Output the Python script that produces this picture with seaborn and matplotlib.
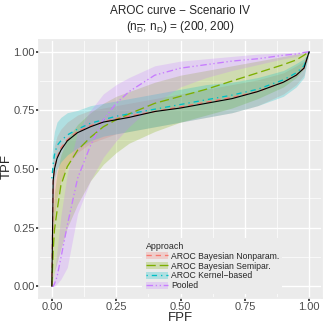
import numpy as np
import pandas as pd
import matplotlib
matplotlib.use("Agg")
import matplotlib.pyplot as plt
import seaborn as sns
from matplotlib.patches import Patch
from matplotlib.lines import Line2D

# Данные
fpf = [0, 0.005, 0.01, 0.02, 0.035, 0.06, 0.1, 0.15, 0.2, 0.25, 0.3,
       0.4, 0.5, 0.6, 0.7, 0.8, 0.9, 0.95, 0.98, 1.0]

true_roc = [0, 0.45, 0.50, 0.545, 0.58, 0.62, 0.655, 0.68, 0.70, 0.71, 0.72,
            0.745, 0.76, 0.78, 0.80, 0.83, 0.87, 0.90, 0.93, 1.0]

nonpar = [0, 0.44, 0.50, 0.55, 0.59, 0.625, 0.66, 0.685, 0.70, 0.715, 0.725,
          0.745, 0.765, 0.785, 0.805, 0.83, 0.87, 0.90, 0.93, 1.0]
nonpar_lo = [0, 0.20, 0.30, 0.38, 0.45, 0.52, 0.57, 0.61, 0.63, 0.65, 0.66,
             0.68, 0.70, 0.72, 0.74, 0.77, 0.82, 0.86, 0.90, 1.0]
nonpar_hi = [0.30, 0.55, 0.60, 0.64, 0.67, 0.70, 0.73, 0.75, 0.76, 0.77, 0.78,
             0.80, 0.82, 0.84, 0.86, 0.88, 0.91, 0.94, 0.96, 1.0]

semipar = [0, 0.15, 0.24, 0.32, 0.43, 0.51, 0.58, 0.635, 0.68, 0.71, 0.735,
           0.78, 0.81, 0.84, 0.875, 0.91, 0.945, 0.965, 0.985, 1.0]
semipar_lo = [0, 0.03, 0.06, 0.10, 0.16, 0.25, 0.35, 0.45, 0.52, 0.57, 0.61,
              0.66, 0.70, 0.73, 0.76, 0.80, 0.85, 0.89, 0.93, 1.0]
semipar_hi = [0.05, 0.30, 0.40, 0.48, 0.56, 0.63, 0.69, 0.74, 0.78, 0.81, 0.83,
              0.87, 0.90, 0.92, 0.94, 0.96, 0.98, 0.99, 0.995, 1.0]

kernel = [0.46, 0.52, 0.56, 0.60, 0.62, 0.645, 0.67, 0.695, 0.71, 0.725, 0.735,
          0.755, 0.775, 0.795, 0.815, 0.84, 0.88, 0.91, 0.94, 1.0]
kernel_lo = [0.38, 0.42, 0.46, 0.50, 0.53, 0.56, 0.59, 0.62, 0.64, 0.65, 0.66,
             0.68, 0.70, 0.72, 0.74, 0.77, 0.81, 0.85, 0.89, 1.0]
kernel_hi = [0.56, 0.62, 0.66, 0.70, 0.72, 0.74, 0.75, 0.77, 0.78, 0.79, 0.80,
             0.82, 0.84, 0.86, 0.87, 0.89, 0.92, 0.95, 0.97, 1.0]

pooled = [0, 0.0, 0.01, 0.04, 0.12, 0.26, 0.46, 0.60, 0.71, 0.78, 0.83,
          0.90, 0.93, 0.945, 0.96, 0.97, 0.985, 0.99, 0.997, 1.0]
pooled_lo = [0, 0, 0, 0.01, 0.03, 0.08, 0.31, 0.45, 0.55, 0.62, 0.68,
             0.78, 0.85, 0.89, 0.92, 0.945, 0.97, 0.98, 0.99, 1.0]
pooled_hi = [0, 0.02, 0.06, 0.15, 0.30, 0.48, 0.66, 0.75, 0.82, 0.86, 0.89,
             0.94, 0.96, 0.97, 0.98, 0.99, 0.995, 0.998, 1.0, 1.0]

approaches = ["AROC Bayesian Nonparam.", "AROC Bayesian Semipar.",
              "AROC Kernel\u2212based", "Pooled"]
colors = ["#F8766D", "#7CAE00", "#00BFC4", "#C77CFF"]
dashes = [(4, 3), (7, 3), (1, 3, 4, 3), (5, 2, 1, 2, 1, 2)]

est = [nonpar, semipar, kernel, pooled]
lows = [nonpar_lo, semipar_lo, kernel_lo, pooled_lo]
highs = [nonpar_hi, semipar_hi, kernel_hi, pooled_hi]

df = pd.concat([
    pd.DataFrame({"FPF": fpf, "TPF": e, "lo": lo, "hi": hi, "Approach": a})
    for a, e, lo, hi in zip(approaches, est, lows, highs)
], ignore_index=True)

# Стиль в духе ggplot
sns.set_theme(style="darkgrid", rc={
    "axes.facecolor": "#EBEBEB",
    "grid.color": "white",
    "axes.edgecolor": "#EBEBEB",
})
plt.rcParams['font.family'] = ['Liberation Sans', 'DejaVu Sans']

fig = plt.figure(figsize=(3.24, 3.24), dpi=100)
ax = fig.add_axes([39 / 324, 26 / 324, 283 / 324, 258 / 324])

for a, c in zip(approaches, colors):
    sub = df[df["Approach"] == a]
    ax.fill_between(sub["FPF"], sub["lo"], sub["hi"], color=c, alpha=0.25, lw=0)

sns.lineplot(data=df, x="FPF", y="TPF", hue="Approach", style="Approach",
             palette=dict(zip(approaches, colors)),
             dashes=dict(zip(approaches, dashes)),
             linewidth=0.95, legend=False, ax=ax, sort=False)
sns.lineplot(x=fpf, y=true_roc, color="black", linewidth=0.8, ax=ax)

ax.set_xlim(-0.05, 1.05)
ax.set_ylim(-0.05, 1.05)
ticks = [0, 0.25, 0.5, 0.75, 1.0]
labels = ["0.00", "0.25", "0.50", "0.75", "1.00"]
ax.set_xticks(ticks)
ax.set_yticks(ticks)
ax.set_xticklabels(labels)
ax.set_yticklabels(labels)
ax.set_xticks([0.125, 0.375, 0.625, 0.875], minor=True)
ax.set_yticks([0.125, 0.375, 0.625, 0.875], minor=True)
ax.grid(which="major", color="white", linewidth=1.0)
ax.grid(which="minor", color="white", linewidth=0.5)
ax.tick_params(axis="both", which="major", labelsize=8, labelcolor="#4D4D4D",
               length=2, color="#333333", pad=1, bottom=True, left=True)
ax.tick_params(axis="both", which="minor", length=0)
ax.set_xlabel("")
ax.set_ylabel("")

fig.text(180 / 324, 1 - 318 / 324, "FPF", ha="center", va="center", fontsize=9.5)
fig.text(7 / 324, 1 - 166 / 324, "TPF", ha="center", va="center", fontsize=9.5,
         rotation=90)

fig.text(180 / 324, 1 - 11 / 324, "AROC curve \u2212 Scenario IV", ha="center",
         va="center", fontsize=8.5)
fig.text(180 / 324, 1 - 27 / 324,
         r"($\mathregular{n}_{\overline{\mathregular{D}}}$, $\mathregular{n}_{\mathregular{D}}$) = (200, 200)",
         ha="center", va="center", fontsize=8.5)

handles = [(Patch(facecolor=c, alpha=0.25, edgecolor="none"),
            Line2D([], [], color=c, lw=0.95, dashes=d))
           for c, d in zip(colors, dashes)]
leg = ax.legend(handles, approaches, title="Approach", loc="lower left",
                bbox_to_anchor=(0.35, 0.0), fontsize=6.2, title_fontsize=6.4,
                frameon=True, fancybox=False, framealpha=1, edgecolor="white",
                handlelength=2.6, handleheight=0.9, labelspacing=0.1,
                borderpad=0.4, handletextpad=0.3, alignment="left")
leg.get_frame().set_linewidth(0)

fig.savefig("out.png", dpi=100)
